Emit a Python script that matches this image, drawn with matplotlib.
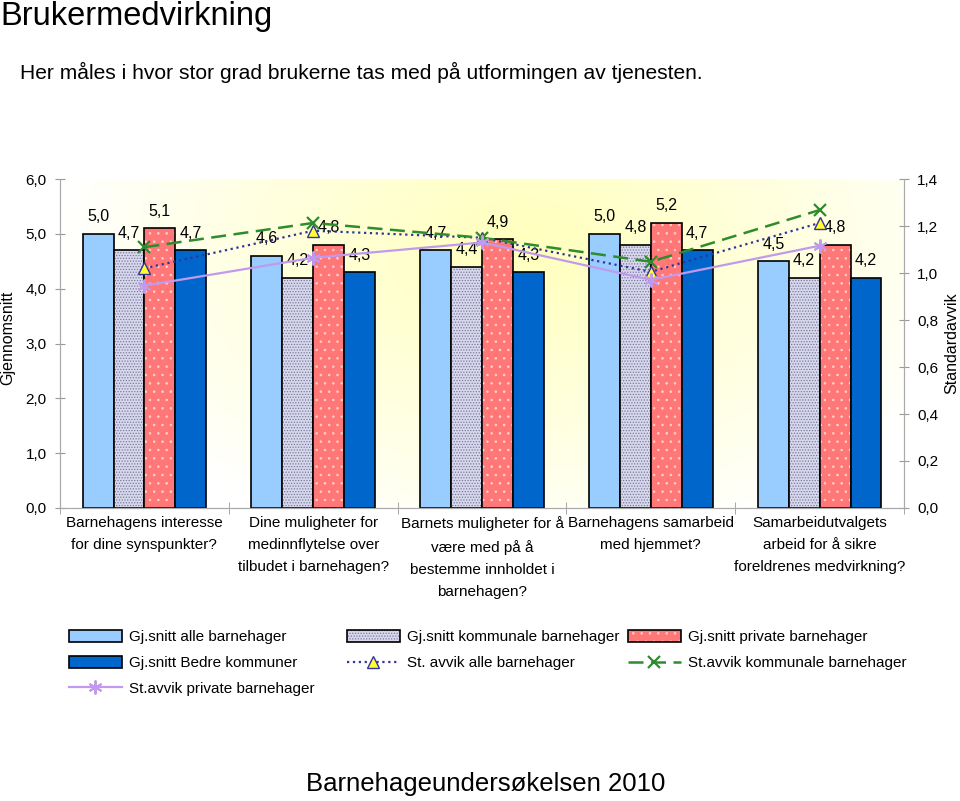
import numpy as np
import matplotlib
matplotlib.use("Agg")
import matplotlib.pyplot as plt
from matplotlib.ticker import FuncFormatter, FixedLocator

plt.rcParams['font.family'] = ['Liberation Sans', 'DejaVu Sans']
plt.rcParams['hatch.linewidth'] = 0.6

categories = [
    "Barnehagens interesse\nfor dine synspunkter?",
    "Dine muligheter for\nmedinnflytelse over\ntilbudet i barnehagen?",
    "Barnets muligheter for å\nvære med på å\nbestemme innholdet i\nbarnehagen?",
    "Barnehagens samarbeid\nmed hjemmet?",
    "Samarbeidutvalgets\narbeid for å sikre\nforeldrenes medvirkning?",
]
mean_alle = [5.0, 4.6, 4.7, 5.0, 4.5]
mean_kommunale = [4.7, 4.2, 4.4, 4.8, 4.2]
mean_private = [5.1, 4.8, 4.9, 5.2, 4.8]
mean_bedre = [4.7, 4.3, 4.3, 4.7, 4.2]
sd_alle = [1.02, 1.18, 1.15, 1.005, 1.213]
sd_kommunale = [1.11, 1.213, 1.15, 1.048, 1.268]
sd_private = [0.946, 1.065, 1.13, 0.971, 1.116]


def comma(v, pos=None):
    return f"{v:.1f}".replace(".", ",")


fig = plt.figure(figsize=(9.6, 8.01), dpi=100)
ax = fig.add_axes([0.0625, 0.3658, 0.8792, 0.4107])

# pale yellow radial background
gx, gy = np.meshgrid(np.linspace(0, 1, 300), np.linspace(0, 1, 200))
r = np.sqrt(((gx - 0.55) / 0.55) ** 2 + ((gy - 0.8) / 0.95) ** 2)
inten = np.clip(1 - r, 0, 1) ** 0.9
bg = np.ones((200, 300, 3))
bg[..., 2] = 1 - 0.26 * inten
ax.imshow(bg, extent=(0, 1, 0, 1), transform=ax.transAxes, origin="lower",
          aspect="auto", zorder=0)

x = np.arange(len(categories))
w = 0.183
offs = [-1.5 * w, -0.5 * w, 0.5 * w, 1.5 * w]

b_alle = ax.bar(x + offs[0], mean_alle, w, color="#99CCFF", edgecolor="black",
                linewidth=1.2, zorder=2)
b_kom_f = ax.bar(x + offs[1], mean_kommunale, w, color="#D8D8EC", edgecolor="#7878A0",
                 hatch="......", linewidth=0, zorder=2)
b_kom_e = ax.bar(x + offs[1], mean_kommunale, w, fill=False, edgecolor="black",
                 linewidth=1.2, zorder=2)
b_pri_f = ax.bar(x + offs[2], mean_private, w, color="#FF7777", edgecolor="#FFD0D0",
                 hatch="..", linewidth=0, zorder=2)
b_pri_e = ax.bar(x + offs[2], mean_private, w, fill=False, edgecolor="black",
                 linewidth=1.2, zorder=2)
b_bedre = ax.bar(x + offs[3], mean_bedre, w, color="#0066CC", edgecolor="black",
                 linewidth=1.2, zorder=2)

for off, vals in zip(offs, [mean_alle, mean_kommunale, mean_private, mean_bedre]):
    for xi, v in zip(x, vals):
        ax.annotate(comma(v), (xi + off, v), xytext=(0, 7), textcoords="offset points",
                    ha="center", va="bottom", fontsize=11.5, zorder=5)

ax.set_xlim(-0.5, 4.5)
ax.set_ylim(0, 6)
ax.set_yticks(np.arange(0, 6.01, 1.0))
ax.yaxis.set_major_formatter(FuncFormatter(comma))
ax.set_xticks(x)
ax.set_xticklabels(categories, fontsize=11, linespacing=1.72)
ax.xaxis.set_minor_locator(FixedLocator(np.arange(-0.5, 4.6, 1.0)))
ax.tick_params(axis="x", which="major", length=0, pad=6)
ax.tick_params(axis="x", which="minor", direction="inout", length=8, color="#999999")
ax.tick_params(axis="y", direction="inout", length=7, color="#999999", labelsize=11, pad=6)
for s in ["left", "bottom", "right"]:
    ax.spines[s].set_color("#AAAAAA")
ax.spines["top"].set_visible(False)

ax2 = ax.twinx()
ax2.set_ylim(0, 1.4)
ax2.set_yticks(np.arange(0, 1.41, 0.2))
ax2.yaxis.set_major_formatter(FuncFormatter(comma))
ax2.tick_params(axis="y", direction="inout", length=7, color="#999999", labelsize=11, pad=6)
for s in ["left", "bottom", "right"]:
    ax2.spines[s].set_color("#AAAAAA")
ax2.spines["top"].set_visible(False)

l_alle, = ax2.plot(x, sd_alle, linestyle=":", color="#333399", linewidth=1.6,
                   marker="^", markersize=8, markerfacecolor="#FFFF33",
                   markeredgecolor="#333399", markeredgewidth=1.0, zorder=4)
l_kom, = ax2.plot(x, sd_kommunale, linestyle=(0, (6, 3)), color="#2E8B2E", linewidth=1.8,
                  marker="x", markersize=9, markeredgewidth=1.6, zorder=4)
l_pri, = ax2.plot(x, sd_private, linestyle="-", color="#C09AEE", linewidth=1.6,
                  marker=(6, 2, 0), markersize=10, markeredgewidth=1.4, zorder=4)

fig.text(0.008, 1 - 338 / 801, "Gjennomsnitt", rotation=90, ha="center",
         va="center", fontsize=11.5)
fig.text(952 / 960, 1 - 343 / 801, "Standardavvik", rotation=90, ha="center",
         va="center", fontsize=11.5)

fig.text(0.0, 1 - 17 / 801, "Brukermedvirkning", fontsize=23.5, ha="left", va="center")
fig.text(20 / 960, 1 - 72 / 801,
         "Her måles i hvor stor grad brukerne tas med på utformingen av tjenesten.",
         fontsize=15.1, ha="left", va="center")
fig.text(486 / 960, 1 - 784 / 801, "Barnehageundersøkelsen 2010", fontsize=18.5,
         ha="center", va="center")

leg_kw = dict(loc="upper left", frameon=False, fontsize=11, handlelength=3.45,
              handleheight=0.85, handletextpad=0.45, labelspacing=0.75,
              borderpad=0, borderaxespad=0)
top = 1 - 630 / 801
fig.legend([b_alle[0], b_bedre[0], l_pri],
           ["Gj.snitt alle barnehager", "Gj.snitt Bedre kommuner",
            "St.avvik private barnehager"],
           bbox_to_anchor=(69 / 960, top), **leg_kw)
fig.legend([(b_kom_f[0], b_kom_e[0]), l_alle],
           ["Gj.snitt kommunale barnehager", "St. avvik alle barnehager"],
           bbox_to_anchor=(347 / 960, top), **leg_kw)
fig.legend([(b_pri_f[0], b_pri_e[0]), l_kom],
           ["Gj.snitt private barnehager", "St.avvik kommunale barnehager"],
           bbox_to_anchor=(628 / 960, top), **leg_kw)

fig.savefig("out.png", dpi=100)
